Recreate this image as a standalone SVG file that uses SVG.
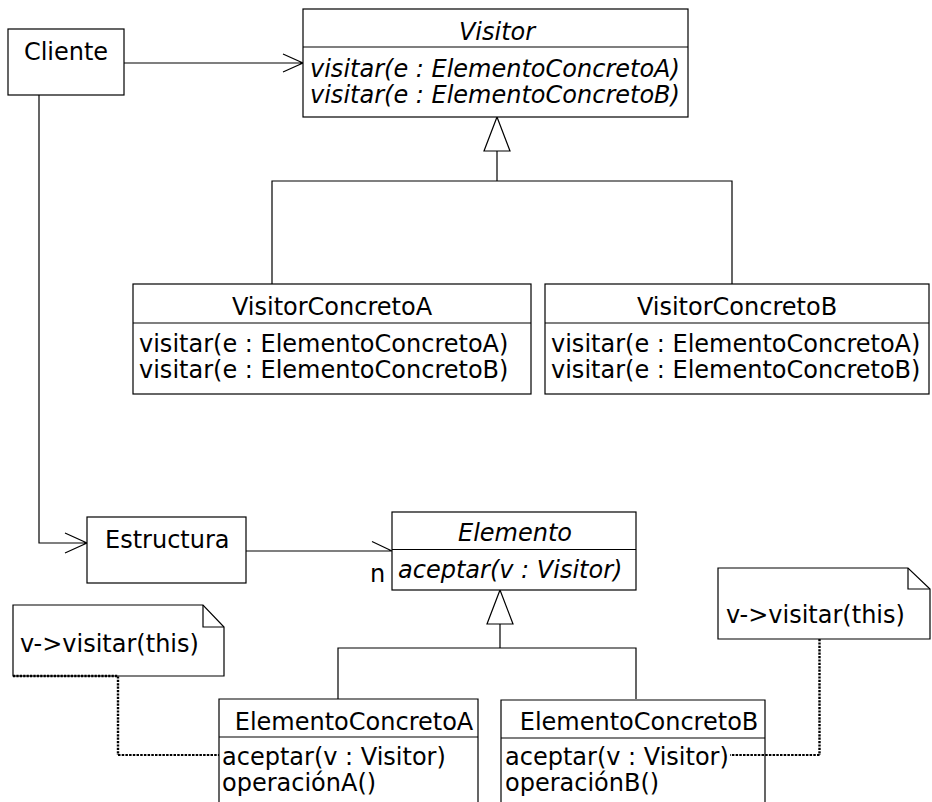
<svg xmlns="http://www.w3.org/2000/svg" width="932" height="802" viewBox="0 0 932 802">
<style>
.box{fill:#fff;stroke:#000;stroke-width:1.2}
.ln{fill:none;stroke:#000;stroke-width:1.2}
.dotv{fill:none;stroke:#000;stroke-width:2.4;stroke-dasharray:2.2 1.2}
.doth{fill:none;stroke:#000;stroke-width:1.8;stroke-dasharray:2.5 1.2}
text{font-family:"DejaVu Sans",Verdana,sans-serif;font-size:24px;fill:#000}
.it{font-style:italic}
.c{text-anchor:middle}
</style>
<rect width="932" height="802" fill="#fff"/>
<g id="connectors">
  <path class="ln" d="M124,63 H303 M283,54 L303,63 L283,72"/>
  <path class="ln" d="M497,151 V181 M272,284 V181 H732 V284"/>
  <path class="ln" d="M497,117 L510,151 H484 Z" fill="#fff"/>
  <path class="ln" d="M39,95 V543 H87 M65,533 L87,543 L65,553"/>
  <path class="ln" d="M246,551 H392 M372,541.5 L392,551"/>
  <path class="ln" d="M500,624 V648 M338,699 V648 H636 V699"/>
  <path class="ln" d="M500,590 L513,624 H487 Z" fill="#fff"/>
</g>
<g id="cliente">
  <rect class="box" x="8" y="29" width="116" height="66"/>
  <text x="66" y="60" class="c">Cliente</text>
</g>
<g id="visitor">
  <rect class="box" x="303" y="9" width="385" height="108"/>
  <line class="ln" x1="303" y1="47" x2="688" y2="47"/>
  <text x="497" y="40" class="c it">Visitor</text>
  <text x="310" y="77" class="it">visitar(e : ElementoConcretoA)</text>
  <text x="310" y="103" class="it">visitar(e : ElementoConcretoB)</text>
</g>
<g id="visitorConcretoA">
  <rect class="box" x="133" y="284" width="398" height="110"/>
  <line class="ln" x1="133" y1="323" x2="531" y2="323"/>
  <text x="332" y="315" class="c">VisitorConcretoA</text>
  <text x="139" y="352">visitar(e : ElementoConcretoA)</text>
  <text x="139" y="378">visitar(e : ElementoConcretoB)</text>
</g>
<g id="visitorConcretoB">
  <rect class="box" x="545" y="284" width="384" height="110"/>
  <line class="ln" x1="545" y1="323" x2="929" y2="323"/>
  <text x="737" y="315" class="c">VisitorConcretoB</text>
  <text x="551" y="352">visitar(e : ElementoConcretoA)</text>
  <text x="551" y="378">visitar(e : ElementoConcretoB)</text>
</g>
<g id="estructura">
  <rect class="box" x="87" y="517" width="159" height="66"/>
  <text x="105" y="548">Estructura</text>
</g>
<g id="elemento">
  <rect class="box" x="392" y="512" width="244" height="78"/>
  <line class="ln" x1="392" y1="549.5" x2="636" y2="549.5"/>
  <text x="515" y="541" class="c it">Elemento</text>
  <text x="398" y="578" class="it">aceptar(v : Visitor)</text>
  <text x="370" y="582">n</text>
</g>
<g id="notaA">
  <path class="box" d="M13,605 H203 L224,627 V676 H13 Z"/>
  <path class="ln" d="M203,605 V627 H224"/>
  <text x="20" y="652">v-&gt;visitar(this)</text>
</g>
<g id="notaB">
  <path class="box" d="M718,568 H908 L930,589 V639 H718 Z"/>
  <path class="ln" d="M908,568 V589 H930"/>
  <text x="726" y="623">v-&gt;visitar(this)</text>
</g>
<g id="elementoConcretoA">
  <path class="box" d="M219,803 V699 H478 V803"/>
  <line class="ln" x1="219" y1="737" x2="478" y2="737"/>
  <text x="354" y="730" class="c">ElementoConcretoA</text>
  <text x="222" y="765">aceptar(v : Visitor)</text>
  <text x="222" y="791">operaciónA()</text>
</g>
<g id="elementoConcretoB">
  <path class="box" d="M501,803 V700 H765 V803"/>
  <line class="ln" x1="501" y1="738" x2="765" y2="738"/>
  <text x="639" y="730" class="c">ElementoConcretoB</text>
  <text x="505" y="765">aceptar(v : Visitor)</text>
  <text x="505" y="791">operaciónB()</text>
</g>
<g id="note-links">
  <path class="dotv" d="M13,676 H118 V755"/>
  <path class="doth" d="M118,755 H219"/>
  <path class="dotv" d="M819.5,639 V755"/>
  <path class="doth" d="M819.5,755 H730"/>
</g>
</svg>
